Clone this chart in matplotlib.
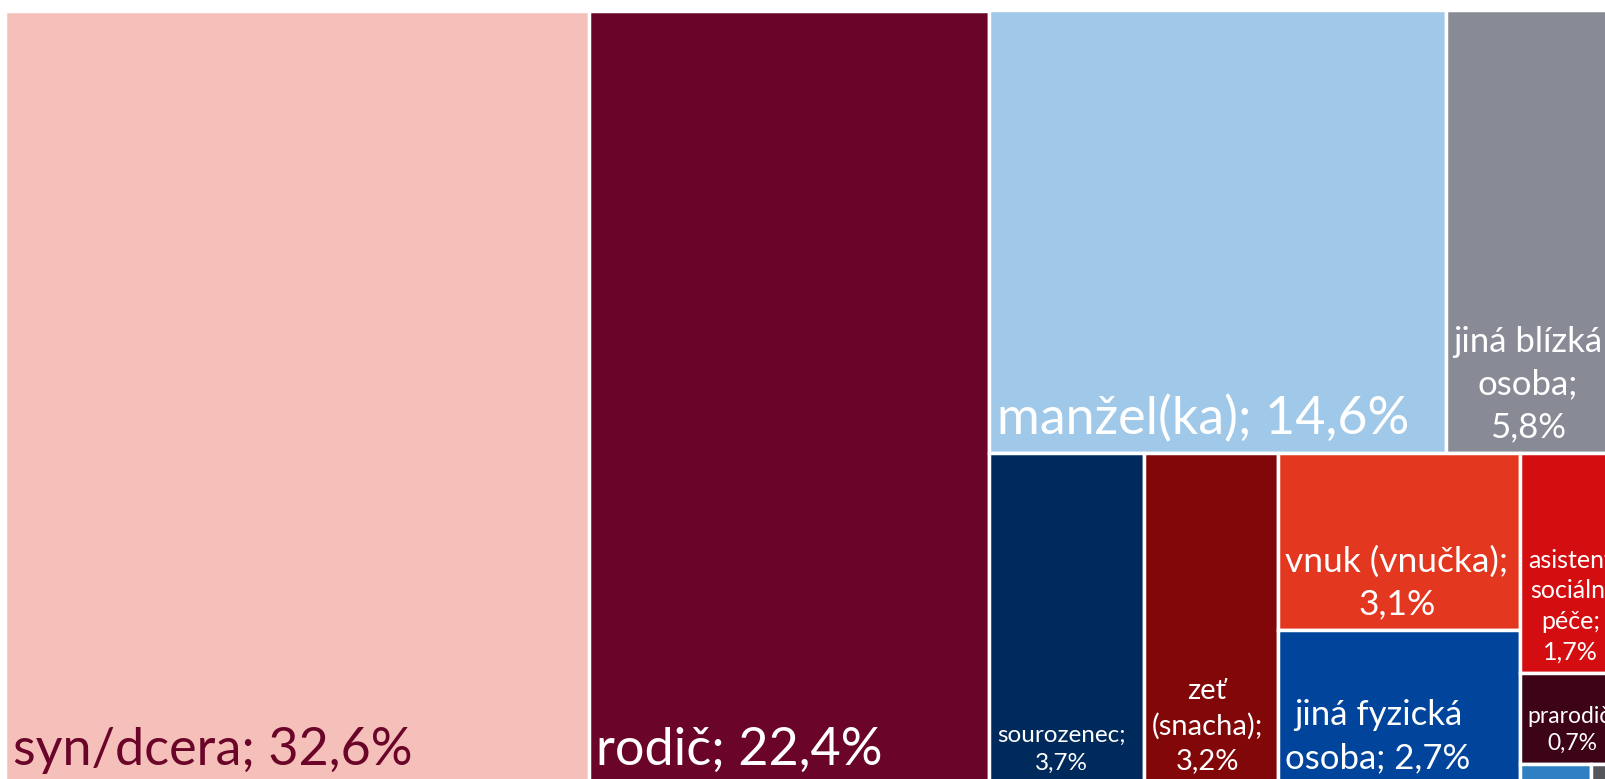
import matplotlib
matplotlib.use("Agg")
import matplotlib.pyplot as plt
from matplotlib.patches import Rectangle

plt.rcParams['font.family'] = ['Lato', 'DejaVu Sans']

# ---- data ----
categories = ["syn/dcera", "rodič", "manžel(ka)", "jiná blízká osoba", "sourozenec",
              "zeť (snacha)", "vnuk (vnučka)", "jiná fyzická osoba",
              "asistent sociální péče", "prarodič", "ostatní A", "ostatní B"]
values = [32.6, 22.4, 14.6, 5.8, 3.7, 3.2, 3.1, 2.7, 1.7, 0.7, 0.1, 0.05]
# displayed (wrapped) label texts; empty = no label shown
label_texts = ["syn/dcera; 32,6%", "rodič; 22,4%", "manžel(ka); 14,6%",
               "jiná blízká\nosoba;\n5,8%", "sourozenec;\n3,7%", "zeť\n(snacha);\n3,2%",
               "vnuk (vnučka);\n3,1%", "jiná fyzická\nosoba; 2,7%",
               "asistent\nsociální\npéče;\n1,7%", "prarodič;\n0,7%", "", ""]
colors = ["#F6C0BA", "#6A0429", "#9FC8E9", "#888A96", "#002A5C", "#820709",
          "#E43720", "#01449B", "#D40D10", "#3D0418", "#2F80C3", "#54565C"]
text_colors = ["#6A0429"] + ["white"] * 11
font_sizes = [37.5, 37.5, 37.5, 25, 17.5, 21, 25.5, 25, 18, 16.5, 10, 10]

# nested slice structure: 'h' = side-by-side columns, 'v' = stacked rows (top->bottom)
layout = ('h', [0, 1, ('v', [('h', [2, 3]),
                            ('h', [4, 5, ('v', [6, 7]),
                                   ('v', [8, 9, ('h', [10, 11])])])])])


def total(node):
    if isinstance(node, int):
        return values[node]
    return sum(total(c) for c in node[1])


rects = {}


def place(node, x, y, w, h):
    # y is the top edge (data coords with y increasing upward)
    if isinstance(node, int):
        rects[node] = (x, y - h, w, h)
        return
    kind, children = node
    s = total(node)
    if kind == 'h':
        cx = x
        for c in children:
            cw = w * total(c) / s
            place(c, cx, y, cw, h)
            cx += cw
    else:
        cy = y
        for c in children:
            ch = h * total(c) / s
            place(c, x, cy, w, ch)
            cy -= ch


place(layout, 0.0, 1.0, 1.0, 1.0)

W, H = 1605, 779
fig = plt.figure(figsize=(W / 100, H / 100), dpi=100)
left_px, right_px, top_px, bottom_px = 5.3, 1627.0, 10.5, 783.5
ax = fig.add_axes([left_px / W, 1 - bottom_px / H,
                   (right_px - left_px) / W, (bottom_px - top_px) / H])
ax.set_xlim(0, 1)
ax.set_ylim(0, 1)
ax.axis('off')

for i in range(len(values)):
    x0, y0, w, h = rects[i]
    ax.add_patch(Rectangle((x0, y0), w, h, facecolor=colors[i],
                           edgecolor='white', linewidth=2.5))
    if label_texts[i]:
        ax.annotate(label_texts[i], xy=(x0, y0), xytext=(5.4, 7),
                    textcoords='offset points', ha='left', va='bottom',
                    multialignment='center', fontsize=font_sizes[i],
                    linespacing=1.4, color=text_colors[i],
                    annotation_clip=False)

fig.savefig("out.png", dpi=100)
